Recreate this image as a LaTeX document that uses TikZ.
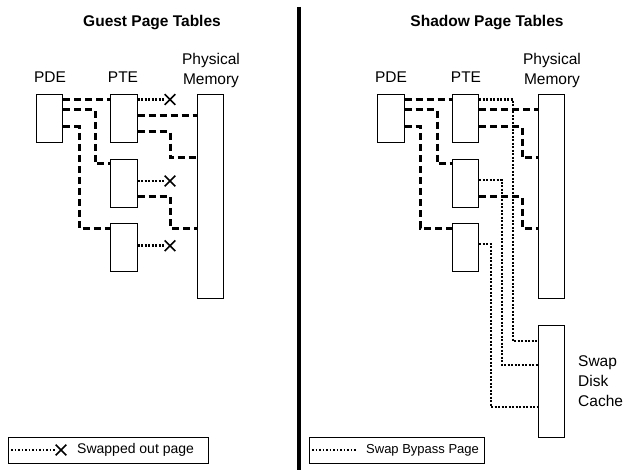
\documentclass[tikz,border=0pt]{standalone}
\usepackage{fontspec}
\setmainfont{Liberation Sans}
\usetikzlibrary{shapes.misc}
\begin{document}
\begin{tikzpicture}[x=1pt,y=-1pt,
  box/.style={draw=black,line width=0.8pt,fill=white,inner sep=0pt,minimum width=26.5pt},
  lbl/.style={font=\fontsize{15.5}{20}\selectfont,align=center,inner sep=0pt},
  ttl/.style={font=\fontsize{15.5}{20}\selectfont\bfseries,inner sep=0pt},
  leg/.style={font=\fontsize{14}{17}\selectfont,inner sep=0pt,anchor=west},
  dashln/.style={line width=3pt,dash pattern=on 7pt off 4pt},
  dotln/.style={line width=2.5pt,dash pattern=on 1.9pt off 1.6pt},
  xmark/.style={cross out,draw=black,line width=1.6pt,minimum size=9pt,inner sep=0pt}]
\useasboundingbox (0,0) rectangle (636,470);
% divider
\draw[line width=4pt] (299,7) coordinate (dtop) -- (299,470) coordinate (dbot);
% ---------- Left panel ----------
\node[ttl] (tL) at (152,23) {Guest Page Tables};
\node[lbl] (pdeLl) at (50,77) {PDE};
\node[lbl] (pteLl) at (123,77) {PTE};
\node[lbl] (memLl) at (211,70) {Physical\\Memory};
\node[box,minimum height=48pt] (pdeL) at (49.5,118) {};
\node[box,minimum height=48pt] (pteL1) at (124,118) {};
\node[box,minimum height=48pt] (pteL2) at (124,183) {};
\node[box,minimum height=48pt] (pteL3) at (124,247) {};
\node[box,minimum height=204pt] (memL) at (210.5,196) {};
\node[xmark] (xL1) at (170,99.5) {};
\node[xmark] (xL2) at (170,181) {};
\node[xmark] (xL3) at (170,245.7) {};
% PDE -> PTE
\draw[dashln] (pdeL.east |- 0,99.5) -- (pteL1.west |- 0,99.5);
\draw[dashln] (pdeL.east |- 0,110) -| (95,164) -- (pteL2.west |- 0,164);
\draw[dashln] (pdeL.east |- 0,126.7) -| (79,228) -- (pteL3.west |- 0,228);
% PTE -> memory
\draw[dashln] (pteL1.east |- 0,115.7) -- (memL.west |- 0,115.7);
\draw[dashln] (pteL1.east |- 0,132) -| (170,158) -- (memL.west |- 0,158);
\draw[dashln] (pteL2.east |- 0,196.7) -| (170,228) -- (memL.west |- 0,228);
% swapped out
\draw[dotln] (pteL1.east |- xL1) -- (xL1.west);
\draw[dotln] (pteL2.east |- xL2) -- (xL2.west);
\draw[dotln] (pteL3.east |- xL3) -- (xL3.west);
% legend left
\node[draw=black,line width=0.8pt,minimum width=200pt,minimum height=26pt,inner sep=0pt] (legL) at (108,450) {};
\node[xmark] (xLeg) at (61,450) {};
\coordinate (legLs) at (11,450);
\draw[dotln] (legLs) -- (xLeg.west);
\node[leg] (legLt) at (77,450) {Swapped out page};
% ---------- Right panel ----------
\node[ttl] (tR) at (487,23) {Shadow Page Tables};
\node[lbl] (pdeRl) at (391,77) {PDE};
\node[lbl] (pteRl) at (466,77) {PTE};
\node[lbl] (memRl) at (552,70) {Physical\\Memory};
\node[box,minimum height=48pt] (pdeR) at (391,118) {};
\node[box,minimum height=48pt] (pteR1) at (465.5,118) {};
\node[box,minimum height=48pt] (pteR2) at (465.5,183) {};
\node[box,minimum height=48pt] (pteR3) at (465.5,247) {};
\node[box,minimum height=204pt] (memR) at (551.5,196) {};
\node[box,minimum height=112pt] (cache) at (551.5,381) {};
\node[lbl,align=left,anchor=west] (cachel) at (578,381) {Swap\\Disk\\Cache};
% PDE -> PTE
\draw[dashln] (pdeR.east |- 0,99.5) -- (pteR1.west |- 0,99.5);
\draw[dashln] (pdeR.east |- 0,110) -| (437,164) -- (pteR2.west |- 0,164);
\draw[dashln] (pdeR.east |- 0,126.7) -| (420,228) -- (pteR3.west |- 0,228);
% PTE -> memory
\draw[dashln] (pteR1.east |- 0,110) -- (memR.west |- 0,110);
\draw[dashln] (pteR1.east |- 0,126.7) -| (522,158) -- (memR.west |- 0,158);
\draw[dashln] (pteR2.east |- 0,196.7) -| (522,228) -- (memR.west |- 0,228);
% swap bypass
\draw[dotln] (pteR1.east |- 0,99.5) -| (513,341) -- (cache.west |- 0,341);
\draw[dotln] (pteR2.east |- 0,180) -| (502,365) -- (cache.west |- 0,365);
\draw[dotln] (pteR3.east |- 0,244) -| (491,407) -- (cache.west |- 0,407);
% legend right
\node[draw=black,line width=0.8pt,minimum width=175pt,minimum height=26pt,inner sep=0pt] (legR) at (396.5,450) {};
\coordinate (legRs) at (312,450);
\coordinate (legRe) at (356,450);
\draw[dotln] (legRs) -- (legRe);
\node[leg,font=\fontsize{13}{16}\selectfont] (legRt) at (366,450) {Swap Bypass Page};
\end{tikzpicture}
\end{document}
